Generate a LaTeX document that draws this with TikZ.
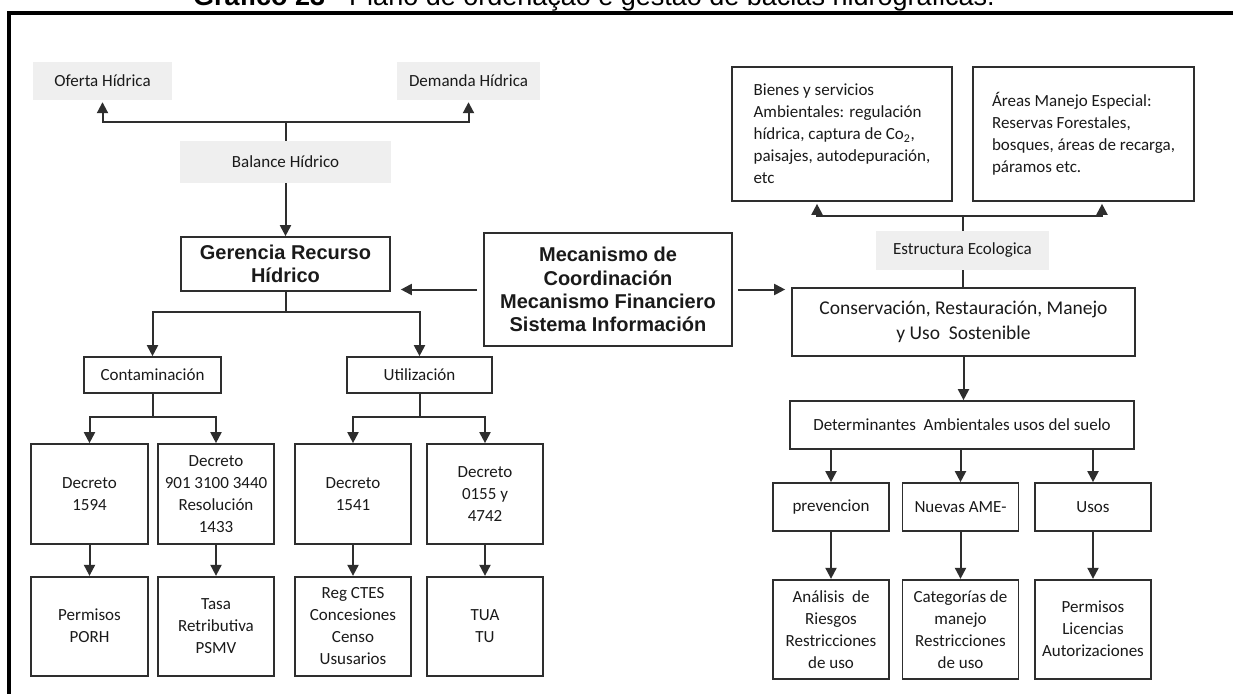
\documentclass[tikz,border=0pt]{standalone}
\usepackage{fontspec}
\setmainfont{Carlito}
\newfontfamily\arialfont{Liberation Sans}
\usetikzlibrary{arrows.meta, positioning}
\definecolor{linecol}{HTML}{2E2E2E}
\definecolor{txtcol}{HTML}{1A1A1A}
\definecolor{shadecol}{HTML}{EFEFEF}

\begin{document}
\begin{tikzpicture}[
    x=1pt, y=-1pt,
    node distance=10pt,
    box/.style={rectangle, draw=linecol, line width=1.7pt, fill=white, text=txtcol, align=center, inner sep=2pt, font=\fontsize{17}{22}\selectfont},
    shaded/.style={rectangle, fill=shadecol, text=txtcol, align=center, font=\fontsize{17}{22}\selectfont},
    mainbox/.style={box, font=\arialfont\bfseries\fontsize{20}{23.3}\selectfont},
    decbox/.style={box, minimum width=116pt, minimum height=100pt},
    usebox/.style={box, minimum width=116pt, minimum height=48pt},
    conn/.style={draw=linecol, line width=2pt},
    arrow/.style={conn, -{Triangle[length=11pt,width=11pt]}}
]
\path[use as bounding box, clip] (0,0) rectangle (1233,693);
\fill[white] (0,0) rectangle (1233,693);

% Title and frame
\node (titulo) [anchor=base west, inner sep=0pt, font=\arialfont\fontsize{27}{27}\selectfont] at (193,5.5) {\textbf{Gráfico 23} - Plano de ordenação e gestão de bacias hidrográficas.};
\draw[line width=4pt, black] (9,700) -- (9,13.5) -- (1240,13.5);

% Left side
\node (oferta) [shaded, minimum width=139pt, minimum height=38pt] at (102.5,81) {Oferta Hídrica};
\node (demanda) [shaded, minimum width=143pt, minimum height=38pt] at (468.5,81) {Demanda Hídrica};
\node (balance) [shaded, minimum width=211pt, minimum height=42pt] at (285.5,162) {Balance Hídrico};
\node (gerencia) [mainbox, minimum width=209pt, minimum height=54pt] at (285.5,264) {Gerencia Recurso\\Hídrico};
\node (mecanismo) [mainbox, minimum width=248pt, minimum height=113pt] at (608,289.5) {Mecanismo de\\Coordinación\\Mecanismo Financiero\\Sistema Información};

\node (contam) [box, minimum width=137pt, minimum height=36pt] at (152.5,375) {Contaminación};
\node (utiliz) [box, minimum width=145pt, minimum height=36pt] at (419.5,375) {Utilización};
\node (dec1594) [decbox, minimum width=117pt] at (89.5,494) {Decreto\\1594};
\node (dec901) [decbox] at (216,494) {Decreto\\901 3100 3440\\Resolución\\1433};
\node (dec1541) [decbox] at (353,494) {Decreto\\1541};
\node (dec0155) [decbox] at (485,494) {Decreto\\0155 y\\4742};
\node (permisos) [decbox, minimum width=117pt, minimum height=99pt, below=31pt of dec1594] {Permisos\\PORH};
\node (tasa) [decbox, minimum height=99pt, below=31pt of dec901] {Tasa\\Retributiva\\PSMV};
\node (regctes) [decbox, minimum height=99pt, below=31pt of dec1541] {Reg CTES\\Concesiones\\Censo\\Ususarios};
\node (tua) [decbox, minimum height=99pt, below=31pt of dec0155] {TUA\\TU};

% Right side
\node (bienes) [box, align=left, minimum width=220pt, minimum height=134pt] at (842,134) {Bienes y servicios\\Ambientales: regulación\\hídrica, captura de Co\textsubscript{2},\\paisajes, autodepuración,\\etc};
\node (areas) [box, align=left, minimum width=221pt, minimum height=134pt] at (1083.5,134) {Áreas Manejo Especial:\\Reservas Forestales,\\bosques, áreas de recarga,\\páramos etc.};
\node (estructura) [shaded, minimum width=173pt, minimum height=39pt] at (962.5,250.5) {Estructura Ecologica};
\node (conserv) [box, font=\fontsize{19.5}{25}\selectfont, minimum width=343pt, minimum height=68pt] at (963.5,322) {Conservación, Restauración, Manejo\\y Uso\ \ Sostenible};
\node (determ) [box, minimum width=344pt, minimum height=48pt] at (962,425) {Determinantes\ \ Ambientales usos del suelo};
\node (prev) [usebox] at (831,507) {prevencion};
\node (nuevas) [usebox] at (960.5,507) {Nuevas AME-};
\node (usos) [usebox] at (1093,507) {Usos};
\node (analisis) [decbox, minimum height=99pt, below=47pt of prev] {Análisis\ \ de\\Riesgos\\Restricciones\\de uso};
\node (categorias) [decbox, minimum height=99pt, below=47pt of nuevas] {Categorías de\\manejo\\Restricciones\\de uso};
\node (licencias) [decbox, minimum height=99pt, below=47pt of usos] {Permisos\\Licencias\\Autorizaciones};

% Connectors left
\coordinate (bhub) at (285.5,122);
\draw[conn] (balance) -- (bhub);
\draw[arrow, shorten >=2pt] (bhub) -| (oferta);
\draw[arrow, shorten >=2pt] (bhub) -| (demanda);
\draw[arrow] (balance) -- (gerencia);
\coordinate (ghub) at (285.5,312);
\draw[conn] (gerencia) -- (ghub);
\draw[arrow] (ghub) -| (contam);
\draw[arrow] (ghub) -| (utiliz);
\draw[arrow, shorten <=6pt, shorten >=10pt] (mecanismo.west) -- (mecanismo.west -| gerencia.east);
\coordinate (chub) at (152.5,417);
\draw[conn] (contam) -- (chub);
\draw[arrow] (chub) -| (dec1594);
\draw[arrow] (chub) -| (dec901);
\coordinate (uhub) at (419.5,417);
\draw[conn] (utiliz) -- (uhub);
\draw[arrow] (uhub) -| (dec1541);
\draw[arrow] (uhub) -| (dec0155);
\draw[arrow] (dec1594) -- (permisos);
\draw[arrow] (dec901) -- (tasa);
\draw[arrow] (dec1541) -- (regctes);
\draw[arrow] (dec0155) -- (tua);

% Connectors right
\coordinate (ehub) at (962.5,216);
\draw[conn] (estructura) -- (ehub);
\draw[arrow, shorten >=2pt] (ehub) -| ([xshift=-25pt]bienes.south);
\draw[arrow, shorten >=2pt] (ehub) -| ([xshift=18.5pt]areas.south);
\draw[conn] (estructura) -- (estructura |- conserv.north);
\draw[arrow, shorten <=5pt, shorten >=6pt] (mecanismo.east) -- (mecanismo.east -| conserv.west);
\draw[arrow] (conserv) -- (conserv |- determ.north);
\foreach \n in {prev, nuevas, usos}
    \draw[arrow] (determ.south -| \n) -- (\n);
\draw[arrow] (prev) -- (analisis);
\draw[arrow] (nuevas) -- (categorias);
\draw[arrow] (usos) -- (licencias);

\end{tikzpicture}
\end{document}
